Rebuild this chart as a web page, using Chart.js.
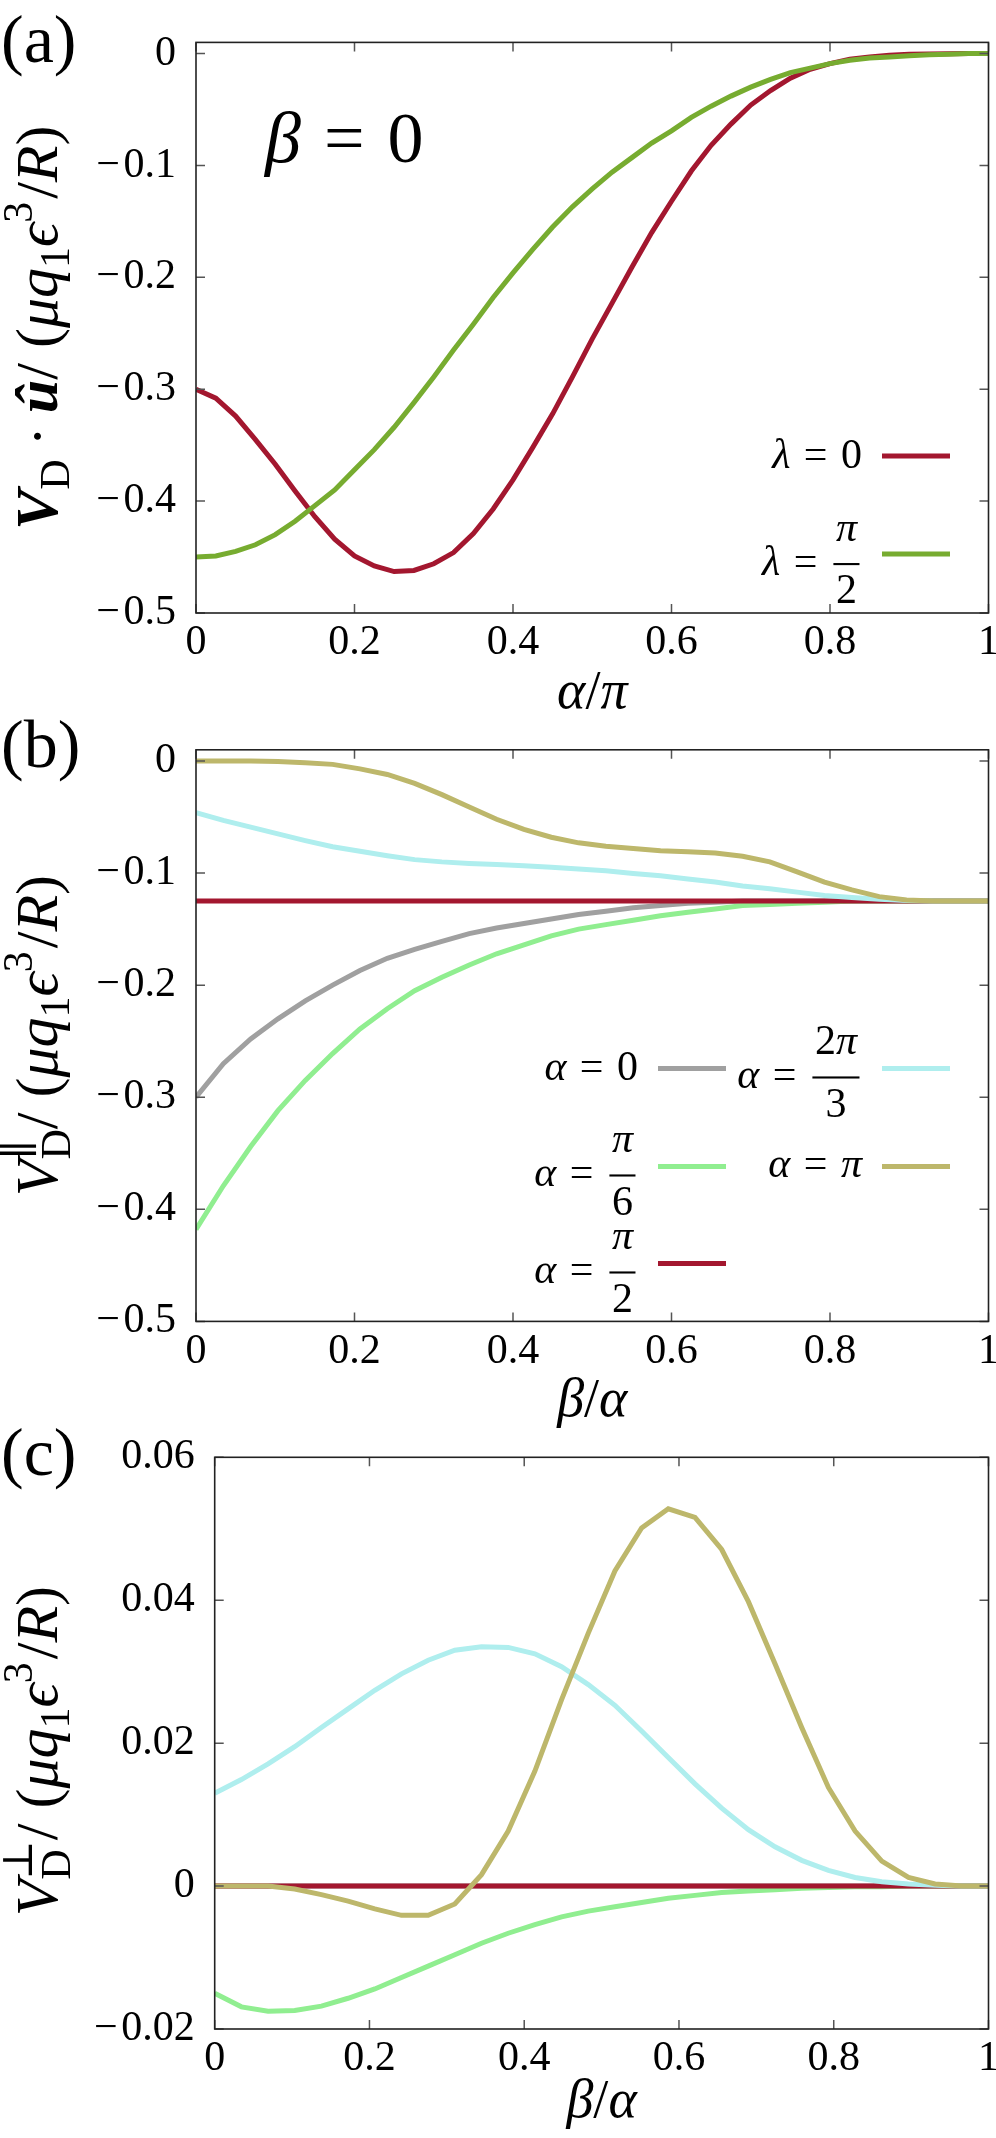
<!DOCTYPE html>
<html>
<head>
<meta charset="utf-8">
<script src="https://cdn.jsdelivr.net/npm/chart.js@4.4.1/dist/chart.umd.min.js"></script>
<style>
  html, body { margin: 0; padding: 0; background: #fff; }
  #wrap { position: relative; width: 996px; height: 2138px; }
  canvas { position: absolute; left: 0; top: 0; }
  #warm { position: absolute; left: -2000px; top: 0; font-family: "Liberation Serif"; }
</style>
</head>
<body>
<div id="warm">0.2 <i>αβλπμqϵR</i> <b><i>Vû</i></b> ∥⊥</div>
<div id="wrap">
  <canvas id="ca" width="996" height="2138"></canvas>
  <canvas id="cb" width="996" height="2138"></canvas>
  <canvas id="cc" width="996" height="2138"></canvas>
</div>
<script>
// ---- panel (a): alpha/pi on x, beta = 0
const xA = [0,0.025,0.05,0.075,0.1,0.125,0.15,0.175,0.2,0.225,0.25,0.275,0.3,0.325,0.35,0.375,0.4,0.425,0.45,0.475,
            0.5,0.525,0.55,0.575,0.6,0.625,0.65,0.675,0.7,0.725,0.75,0.775,0.8,0.825,0.85,0.875,0.9,0.925,0.95,0.975,1];
const lambda0 = [-0.300,-0.308,-0.324,-0.345,-0.367,-0.391,-0.414,-0.434,-0.449,-0.458,-0.463,-0.462,-0.456,-0.446,-0.429,-0.407,-0.381,-0.352,-0.322,-0.289,
                 -0.255,-0.223,-0.191,-0.160,-0.132,-0.105,-0.082,-0.063,-0.046,-0.033,-0.022,-0.014,-0.009,-0.005,-0.003,-0.0015,-0.0007,-0.0003,-0.0001,0,0];
const lambdaHalfPi = [-0.450,-0.449,-0.445,-0.439,-0.430,-0.418,-0.404,-0.390,-0.372,-0.354,-0.334,-0.312,-0.289,-0.265,-0.242,-0.218,-0.196,-0.175,-0.155,-0.137,
                      -0.121,-0.106,-0.093,-0.080,-0.069,-0.057,-0.047,-0.038,-0.030,-0.023,-0.017,-0.013,-0.009,-0.006,-0.004,-0.003,-0.002,-0.001,-0.0005,0,0];

// ---- panels (b) and (c): beta/alpha on x
const xB = [0,0.0345,0.069,0.1034,0.1379,0.1724,0.2069,0.2414,0.2759,0.3103,0.3448,0.3793,0.4138,0.4483,0.4828,
            0.5172,0.5517,0.5862,0.6207,0.6552,0.6897,0.7241,0.7586,0.7931,0.8276,0.8621,0.8966,0.931,0.9655,1];

// parallel component
const parA0   = [-0.300,-0.270,-0.248,-0.230,-0.214,-0.200,-0.187,-0.176,-0.168,-0.161,-0.154,-0.149,-0.145,-0.141,-0.137,
                 -0.134,-0.131,-0.129,-0.127,-0.126,-0.125,-0.125,-0.125,-0.125,-0.125,-0.125,-0.125,-0.125,-0.125,-0.125];
const parPi6  = [-0.418,-0.379,-0.344,-0.312,-0.285,-0.261,-0.239,-0.221,-0.205,-0.193,-0.182,-0.172,-0.164,-0.156,-0.150,
                 -0.146,-0.142,-0.138,-0.135,-0.132,-0.129,-0.128,-0.127,-0.126,-0.125,-0.125,-0.125,-0.125,-0.125,-0.125];
const parPi2  = [-0.125,-0.125,-0.125,-0.125,-0.125,-0.125,-0.125,-0.125,-0.125,-0.125,-0.125,-0.125,-0.125,-0.125,-0.125,
                 -0.125,-0.125,-0.125,-0.125,-0.125,-0.125,-0.125,-0.125,-0.125,-0.125,-0.125,-0.125,-0.125,-0.125,-0.125];
const par2Pi3 = [-0.046,-0.053,-0.059,-0.065,-0.071,-0.0765,-0.0805,-0.0845,-0.088,-0.090,-0.0914,-0.0923,-0.0935,-0.0948,-0.0963,
                 -0.098,-0.1003,-0.1024,-0.1053,-0.108,-0.1115,-0.114,-0.117,-0.120,-0.1217,-0.1233,-0.1245,-0.125,-0.125,-0.125];
const parPi   = [0,0,0,-0.0005,-0.0015,-0.003,-0.007,-0.012,-0.020,-0.030,-0.041,-0.052,-0.061,-0.068,-0.073,
                 -0.076,-0.078,-0.080,-0.081,-0.082,-0.085,-0.090,-0.099,-0.108,-0.115,-0.121,-0.124,-0.125,-0.125,-0.125];

// perpendicular component
const perpA0   = [0,0,0,0,0,0,0,0,0,0,0,0,0,0,0,0,0,0,0,0,0,0,0,0,0,0,0,0,0,0];
const perpPi6  = [-0.0150,-0.0169,-0.0175,-0.0174,-0.0168,-0.0157,-0.0144,-0.0128,-0.0112,-0.0096,-0.0080,-0.0066,-0.0054,-0.0043,-0.0035,
                  -0.0029,-0.0023,-0.0017,-0.0013,-0.0009,-0.0007,-0.0005,-0.0003,-0.0002,-0.0001,-0.0001,0,0,0,0];
const perpPi2  = [0,0,0,0,0,0,0,0,0,0,0,0,0,0,0,0,0,0,0,0,0,0,0,0,0,0,0,0,0,0];
const perp2Pi3 = [0.0130,0.0149,0.0171,0.0195,0.0222,0.0248,0.0274,0.0297,0.0316,0.0330,0.0335,0.0334,0.0325,0.0307,0.0282,
                  0.0253,0.0217,0.0180,0.0143,0.0109,0.0079,0.0055,0.0036,0.0022,0.0012,0.0006,0.0003,0.0001,0,0];
const perpPi   = [0,0,0,-0.0004,-0.0012,-0.0021,-0.0032,-0.0041,-0.0041,-0.0025,0.0016,0.0077,0.0161,0.0261,0.0354,
                  0.0441,0.0501,0.0528,0.0516,0.0471,0.0398,0.0311,0.0222,0.0138,0.0077,0.0035,0.0012,0.0003,0,0];

// ticks
const xTicks = [0, 0.2, 0.4, 0.6, 0.8, 1];
const yTicksAB = [-0.5, -0.4, -0.3, -0.2, -0.1, 0];
const yTicksC = [-0.02, 0, 0.02, 0.04, 0.06];

const RED = '#a3172f', GREEN = '#77ac30', GRAY = '#a0a0a0', LGREEN = '#90ee90', CYAN = '#afeeee', OLIVE = '#bdb76b';
const SERIF = '"Liberation Serif", "Times New Roman", "DejaVu Serif", serif';

// ---- small math text helper
function fnt(r, size) {
  return (r.i ? 'italic ' : '') + (r.b ? 'bold ' : '') + size + 'px ' + SERIF;
}
function runW(ctx, r, size) {
  if (r.gap !== undefined) return r.gap * size;
  if (r.frac) return Math.max(runsW(ctx, r.frac[0], size), runsW(ctx, r.frac[1], size)) + 0.24 * size;
  if (r.stack) return Math.max(runsW(ctx, r.stack[0], size * 0.7), runsW(ctx, r.stack[1], size * 0.7));
  ctx.font = fnt(r, size * (r.s || 1));
  return ctx.measureText(r.t).width;
}
function runsW(ctx, runs, size) {
  let w = 0;
  runs.forEach(r => { w += runW(ctx, r, size); });
  return w;
}
function drawRuns(ctx, runs, x, y, size) {
  runs.forEach(r => {
    const w = runW(ctx, r, size);
    if (r.frac) {
      const bar = y - 0.26 * size;
      ctx.fillRect(x + 0.06 * size, bar - 0.025 * size, w - 0.12 * size, 0.05 * size);
      const nw = runsW(ctx, r.frac[0], size);
      drawRuns(ctx, r.frac[0], x + (w - nw) / 2, bar - 0.55 * size, size);
      const dw = runsW(ctx, r.frac[1], size);
      drawRuns(ctx, r.frac[1], x + (w - dw) / 2, bar + 0.93 * size, size);
    } else if (r.stack) {
      drawRuns(ctx, r.stack[0], x, y - 0.42 * size, size * 0.7);
      drawRuns(ctx, r.stack[1], x, y + 0.22 * size, size * 0.7);
    } else if (r.t) {
      ctx.font = fnt(r, size * (r.s || 1));
      ctx.fillText(r.t, x, y + (r.dy || 0) * size);
    }
    x += w;
  });
  return x;
}

const eq = (lhs, rhs) => [lhs, {gap: 0.32}, {t: '='}, {gap: 0.32}].concat(rhs);
const al = {t: 'α', i: 1};
const pi = {t: 'π', i: 1};
const unitRuns = [{t: '/'}, {gap: 0.25}, {t: '('}, {t: 'μ', i: 1}, {t: 'q', i: 1}, {t: '1', s: 0.7, dy: 0.2},
                  {t: 'ϵ', i: 1}, {t: '3', s: 0.7, dy: -0.42}, {gap: 0.05}, {t: '/'}, {t: 'R', i: 1}, {t: ')'}];

// decoration plugin: frame, inner ticks, titles, panel label, legend
const deco = {
  id: 'deco',
  afterDraw(chart, args, o) {
    const ctx = chart.ctx;
    const a = chart.chartArea;
    const xs = chart.scales.x, ys = chart.scales.y;
    ctx.save();
    ctx.strokeStyle = '#555';
    ctx.lineWidth = 1.5;
    ctx.beginPath();
    xs.ticks.forEach(t => {
      const px = xs.getPixelForValue(t.value);
      ctx.moveTo(px, a.bottom); ctx.lineTo(px, a.bottom - 9);
      ctx.moveTo(px, a.top); ctx.lineTo(px, a.top + 9);
    });
    ys.ticks.forEach(t => {
      const py = ys.getPixelForValue(t.value);
      ctx.moveTo(a.left, py); ctx.lineTo(a.left + 9, py);
      ctx.moveTo(a.right, py); ctx.lineTo(a.right - 9, py);
    });
    ctx.stroke();
    ctx.strokeStyle = '#222';
    ctx.lineWidth = 1.6;
    ctx.strokeRect(a.left, a.top, a.right - a.left, a.bottom - a.top);

    ctx.fillStyle = '#000';
    ctx.textBaseline = 'alphabetic';
    ctx.textAlign = 'left';

    // panel label
    ctx.font = '68px ' + SERIF;
    ctx.fillText(o.label, 1, a.top + o.labelDy);

    // x title
    const xw = runsW(ctx, o.xTitle, 54);
    drawRuns(ctx, o.xTitle, (a.left + a.right) / 2 - xw / 2, a.bottom + o.xTitleDy, 54);

    // y title, rotated
    const yw = runsW(ctx, o.yTitle, 60);
    ctx.save();
    ctx.translate(57, (a.top + a.bottom) / 2 + (o.yTitleDy || 0));
    ctx.rotate(-Math.PI / 2);
    drawRuns(ctx, o.yTitle, -yw / 2, 0, 60);
    ctx.restore();

    // annotation
    if (o.note) drawRuns(ctx, o.note.runs, o.note.x, o.note.y, o.note.size);

    // legend: sample line right of each label
    (o.legend || []).forEach(e => {
      const ds = chart.data.datasets[e.ds];
      const sx1 = a.right - e.right, sx0 = sx1 - 68, sy = a.bottom - e.up;
      ctx.strokeStyle = ds.borderColor;
      ctx.lineWidth = 5;
      ctx.beginPath(); ctx.moveTo(sx0, sy); ctx.lineTo(sx1, sy); ctx.stroke();
      ctx.fillStyle = '#000';
      const w = runsW(ctx, e.runs, 42);
      drawRuns(ctx, e.runs, sx0 - 20 - w, sy + e.base, 42);
    });
    ctx.restore();
  }
};

function fmt(v) {
  if (Math.abs(v) < 1e-12) return '0';
  const s = String(Math.round(Math.abs(v) * 1000) / 1000);
  return (v < 0 ? '−\u200a' : '') + s;
}

function makeChart(id, box, xArr, series, yMin, yMax, yTicks, decoOpts) {
  const tickFont = {family: SERIF, size: 42};
  return new Chart(document.getElementById(id), {
    type: 'line',
    data: {
      datasets: series.map((s, i) => ({
        label: s.label,
        data: xArr.map((x, k) => ({x: x, y: s.values[k]})),
        borderColor: s.color,
        backgroundColor: s.color,
        borderWidth: 5,
        pointRadius: 0,
        tension: 0,
        fill: false,
        order: series.length - i
      }))
    },
    options: {
      responsive: false,
      animation: false,
      devicePixelRatio: 1,
      layout: {padding: {left: 0, top: box.top, right: 996 - box.right, bottom: 2138 - box.bottom - 50}},
      plugins: {legend: {display: false}, tooltip: {enabled: false}, deco: decoOpts},
      scales: {
        x: {
          type: 'linear', min: 0, max: 1,
          afterBuildTicks: s => { s.ticks = xTicks.map(v => ({value: v})); },
          afterFit: s => { s.height = 50; s.paddingLeft = 0; s.paddingRight = 0; },
          ticks: {font: tickFont, color: '#000', padding: 5, maxRotation: 0, autoSkip: false, callback: fmt},
          grid: {display: false, drawTicks: false},
          border: {display: false}
        },
        y: {
          type: 'linear', min: yMin, max: yMax,
          afterBuildTicks: s => { s.ticks = yTicks.map(v => ({value: v})); },
          afterFit: s => { s.width = box.left; s.paddingTop = 0; s.paddingBottom = 0; },
          ticks: {font: tickFont, color: '#000', padding: 20, autoSkip: false, callback: fmt},
          grid: {display: false, drawTicks: false},
          border: {display: false}
        }
      }
    },
    plugins: [deco]
  });
}

const alphaSeries = (v0, v6, v2, v23, vpi) => [
  {label: 'α = 0', values: v0, color: GRAY},
  {label: 'α = π/6', values: v6, color: LGREEN},
  {label: 'α = π/2', values: v2, color: RED},
  {label: 'α = 2π/3', values: v23, color: CYAN},
  {label: 'α = π', values: vpi, color: OLIVE}
];

function build() {
  makeChart('ca', {left: 196, right: 988.5, top: 42.4, bottom: 613}, xA,
    [{label: 'λ = 0', values: lambda0, color: RED}, {label: 'λ = π/2', values: lambdaHalfPi, color: GREEN}],
    -0.5, 0.01, yTicksAB, {
      label: '(a)', labelDy: 20,
      xTitle: [al, {t: '/'}, pi], xTitleDy: 95,
      yTitle: [{t: 'V', b: 1, i: 1}, {t: 'D', s: 0.7, dy: 0.2}, {gap: 0.22}, {t: '·'}, {gap: 0.22}, {t: 'û', b: 1, i: 1}].concat(unitRuns),
      note: {runs: eq({t: 'β', i: 1}, [{t: '0'}]), x: 265, y: 162, size: 72},
      legend: [
        {ds: 0, right: 38.5, up: 157, base: 12, runs: eq({t: 'λ', i: 1}, [{t: '0'}])},
        {ds: 1, right: 38.5, up: 59, base: 21, runs: eq({t: 'λ', i: 1}, [{frac: [[pi], [{t: '2'}]]}])}
      ]
    });

  makeChart('cb', {left: 196, right: 988.5, top: 749.8, bottom: 1321.4}, xB,
    alphaSeries(parA0, parPi6, parPi2, par2Pi3, parPi),
    -0.5, 0.01, yTicksAB, {
      label: '(b)', labelDy: 17,
      xTitle: [{t: 'β', i: 1}, {t: '/'}, al], xTitleDy: 95,
      yTitle: [{t: 'V', i: 1}, {stack: [[{t: '∥'}], [{t: 'D'}]]}].concat(unitRuns),
      legend: [
        {ds: 0, right: 262.5, up: 253, base: 12, runs: eq(al, [{t: '0'}])},
        {ds: 1, right: 262.5, up: 155, base: 20, runs: eq(al, [{frac: [[pi], [{t: '6'}]]}])},
        {ds: 2, right: 262.5, up: 58, base: 20, runs: eq(al, [{frac: [[pi], [{t: '2'}]]}])},
        {ds: 3, right: 38.5, up: 253, base: 20, runs: eq(al, [{frac: [[{t: '2'}, pi], [{t: '3'}]]}])},
        {ds: 4, right: 38.5, up: 155, base: 11, runs: eq(al, [pi])}
      ]
    });

  makeChart('cc', {left: 214.7, right: 988.5, top: 1457.3, bottom: 2029}, xB,
    alphaSeries(perpA0, perpPi6, perpPi2, perp2Pi3, perpPi),
    -0.02, 0.06, yTicksC, {
      label: '(c)', labelDy: 18,
      xTitle: [{t: 'β', i: 1}, {t: '/'}, al], xTitleDy: 88,
      yTitle: [{t: 'V', i: 1}, {stack: [[{t: '⊥'}], [{t: 'D'}]]}].concat(unitRuns),
      yTitleDy: 8
    });
}

const faces = ['42px "Liberation Serif"', 'italic 42px "Liberation Serif"', 'italic bold 42px "Liberation Serif"',
               '42px "DejaVu Serif"', 'italic 42px "DejaVu Serif"'];
if (document.fonts && document.fonts.load) {
  Promise.all(faces.map(f => document.fonts.load(f, 'αβ0'))).then(build, build);
} else {
  build();
}
</script>
</body>
</html>
